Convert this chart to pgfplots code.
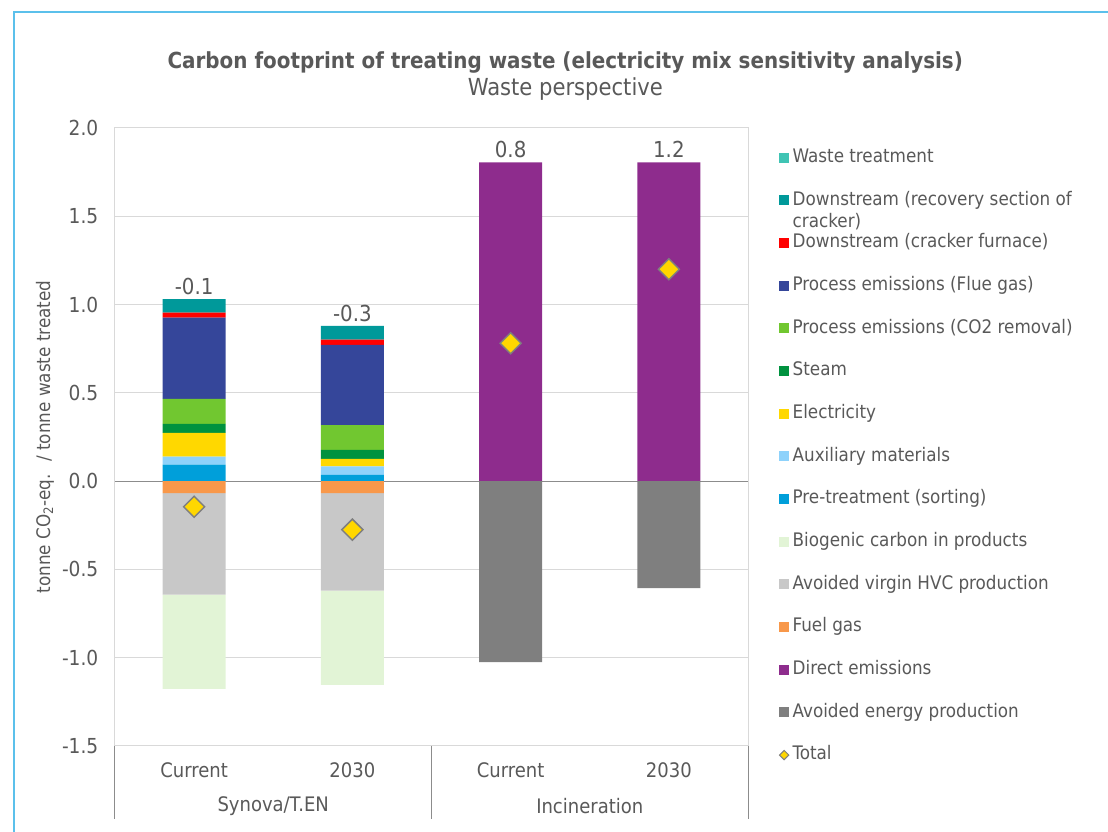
\documentclass[border=0pt]{standalone}
\usepackage{fontspec}
\setmainfont{DejaVu Sans Condensed}
\usepackage{pgfplots}
\pgfplotsset{compat=1.18}
\definecolor{txt}{HTML}{595959}
\definecolor{gridc}{HTML}{D9D9D9}
\definecolor{zeroc}{HTML}{8C8C8C}
\definecolor{sepc}{HTML}{8C8C8C}
\definecolor{bordc}{HTML}{5BC0EB}
\definecolor{cWaste}{HTML}{40C4B4}
\definecolor{cRecov}{HTML}{00999A}
\definecolor{cFurn}{HTML}{FF0000}
\definecolor{cFlue}{HTML}{35469A}
\definecolor{cCO2}{HTML}{71C730}
\definecolor{cSteam}{HTML}{00923F}
\definecolor{cElec}{HTML}{FFD800}
\definecolor{cAux}{HTML}{8ED2FB}
\definecolor{cPre}{HTML}{009FDA}
\definecolor{cBio}{HTML}{E2F4D6}
\definecolor{cHVC}{HTML}{C8C8C8}
\definecolor{cFuel}{HTML}{F8984A}
\definecolor{cDirect}{HTML}{8E2C8D}
\definecolor{cAvEn}{HTML}{7F7F7F}
\definecolor{cTot}{HTML}{FFD700}
\definecolor{cTotB}{HTML}{7F7F7F}
\pgfplotsset{
  geom/.style={at={(86.25pt,64.5pt)}, anchor=south west,
    scale only axis, width=474.75pt, height=463.5pt,
    xmin=-0.5, xmax=3.5, ymin=-1.5, ymax=2},
}
\begin{document}
\begin{tikzpicture}
\useasboundingbox (0pt,0pt) rectangle (831pt,624pt);
\draw[bordc, line width=1.1pt] (10.5pt,0pt) -- (10.5pt,615pt) -- (831pt,615pt);
\node[font=\bfseries\fontsize{16.6}{19}\selectfont, text=txt] at (424pt,577.5pt) {Carbon footprint of treating waste (electricity mix sensitivity analysis)};
\node[font=\fontsize{17.6}{20}\selectfont, text=txt] at (424pt,557pt) {Waste perspective};
\begin{axis}[
  geom,
  ytick={-1.5,-1,-0.5,0,0.5,1,1.5,2},
  xtick={0,1,2,3}, xticklabels={Current,2030,Current,2030},
  major tick length=0pt,
  ymajorgrids, grid style={draw=gridc, line width=0.75pt},
  axis line style={draw=gridc, line width=0.75pt},
  ybar stacked, bar width=47.25pt,
  clip=false,
  tick label style={font=\fontsize{15}{17}\selectfont, text=txt},
  yticklabel style={font=\fontsize{15.5}{17}\selectfont, xshift=-9pt, /pgf/number format/.cd, fixed, fixed zerofill, precision=1, assume math mode=true},
  xticklabel style={yshift=-9pt},
  ylabel={tonne CO\textsubscript{2}-eq.~ / tonne waste treated},
  ylabel style={at={(axis description cs:-0.1106,0.5)}, anchor=center, rotate=0, font=\fontsize{14}{16}\selectfont, text=txt},
  reverse legend,
  legend cell align=left,
  legend style={at={(1.049,0.967)}, anchor=north west, draw=none, fill=none,
    inner sep=0pt, outer sep=0pt, row sep=18pt, column sep=1.5pt,
    font=\fontsize{14}{16.5}\selectfont, text=txt,
    nodes={text height=9.5pt, text depth=2.5pt, inner sep=1pt},
    cells={anchor=west}},
  legend image code/.code={\fill[#1] (0pt,-3.75pt) rectangle (7.5pt,3.75pt);},
]
\addlegendimage{legend image code/.code={\filldraw[fill=cTot, draw=cTotB, line width=0.75pt] (3.75pt,-3.5pt) -- (7.25pt,0pt) -- (3.75pt,3.5pt) -- (0.25pt,0pt) -- cycle;}}
\addlegendentry{Total}
% Incineration
\addplot[draw=none, fill=cAvEn] coordinates {(0,0) (1,0) (2,-1.025) (3,-0.606)};
\addlegendentry{Avoided energy production}
\addplot[draw=none, fill=cDirect] coordinates {(0,0) (1,0) (2,1.806) (3,1.806)};
\addlegendentry{Direct emissions}
% negatives Synova
\addplot[draw=none, fill=cFuel] coordinates {(0,-0.068) (1,-0.068) (2,0) (3,0)};
\addlegendentry{Fuel gas}
\addplot[draw=none, fill=cHVC] coordinates {(0,-0.575) (1,-0.552) (2,0) (3,0)};
\addlegendentry{Avoided virgin HVC production}
\addplot[draw=none, fill=cBio] coordinates {(0,-0.533) (1,-0.534) (2,0) (3,0)};
\addlegendentry{Biogenic carbon in products}
% positives Synova
\addplot[draw=none, fill=cPre] coordinates {(0,0.094) (1,0.036) (2,0) (3,0)};
\addlegendentry{Pre-treatment (sorting)}
\addplot[draw=none, fill=cAux] coordinates {(0,0.045) (1,0.047) (2,0) (3,0)};
\addlegendentry{Auxiliary materials}
\addplot[draw=none, fill=cElec] coordinates {(0,0.134) (1,0.043) (2,0) (3,0)};
\addlegendentry{Electricity}
\addplot[draw=none, fill=cSteam] coordinates {(0,0.051) (1,0.051) (2,0) (3,0)};
\addlegendentry{Steam}
\addplot[draw=none, fill=cCO2] coordinates {(0,0.142) (1,0.140) (2,0) (3,0)};
\addlegendentry{Process emissions (CO2 removal)}
\addplot[draw=none, fill=cFlue] coordinates {(0,0.460) (1,0.455) (2,0) (3,0)};
\addlegendentry{Process emissions (Flue gas)}
\addplot[draw=none, fill=cFurn] coordinates {(0,0.029) (1,0.030) (2,0) (3,0)};
\addlegendentry{Downstream (cracker furnace)}
\addplot[draw=none, fill=cRecov] coordinates {(0,0.076) (1,0.077) (2,0) (3,0)};
\addlegendentry{\parbox[t]{240pt}{Downstream (recovery section of\\cracker)}}
\addplot[draw=none, fill=cWaste] coordinates {(0,0) (1,0) (2,0) (3,0)};
\addlegendentry{Waste treatment}
% zero line, labels, separators
\draw[zeroc, line width=0.9pt] (axis cs:-0.5,0) -- (axis cs:3.5,0);
\node[anchor=south, inner sep=3pt, font=\fontsize{16.5}{18}\selectfont, text=txt] at (axis cs:0,1.031) {-0.1};
\node[anchor=south, inner sep=3pt, font=\fontsize{16.5}{18}\selectfont, text=txt] at (axis cs:1,0.879) {-0.3};
\node[anchor=south, inner sep=3pt, font=\fontsize{16.5}{18}\selectfont, text=txt] at (axis cs:2,1.806) {0.8};
\node[anchor=south, inner sep=3pt, font=\fontsize{16.5}{18}\selectfont, text=txt] at (axis cs:3,1.806) {1.2};
\draw[sepc, line width=0.75pt] (axis cs:-0.5,-1.5) -- ++(0pt,-55pt);
\draw[sepc, line width=0.75pt] (axis cs:1.5,-1.5) -- ++(0pt,-55pt);
\draw[sepc, line width=0.75pt] (axis cs:3.5,-1.5) -- ++(0pt,-55pt);
\node[font=\fontsize{15}{17}\selectfont, text=txt, yshift=-45pt] at (axis cs:0.5,-1.5) {Synova/T.EN};
\node[font=\fontsize{15}{17}\selectfont, text=txt, yshift=-45pt] at (axis cs:2.5,-1.5) {Incineration};
\end{axis}
% Total markers on top
\begin{axis}[geom, hide axis, clip=false]
\addplot[only marks, mark=square*, mark size=5.6pt, mark options={rotate=45, fill=cTot, draw=cTotB, line width=1.1pt}]
  coordinates {(0,-0.145) (1,-0.275) (2,0.781) (3,1.200)};
\end{axis}
\end{tikzpicture}
\end{document}
